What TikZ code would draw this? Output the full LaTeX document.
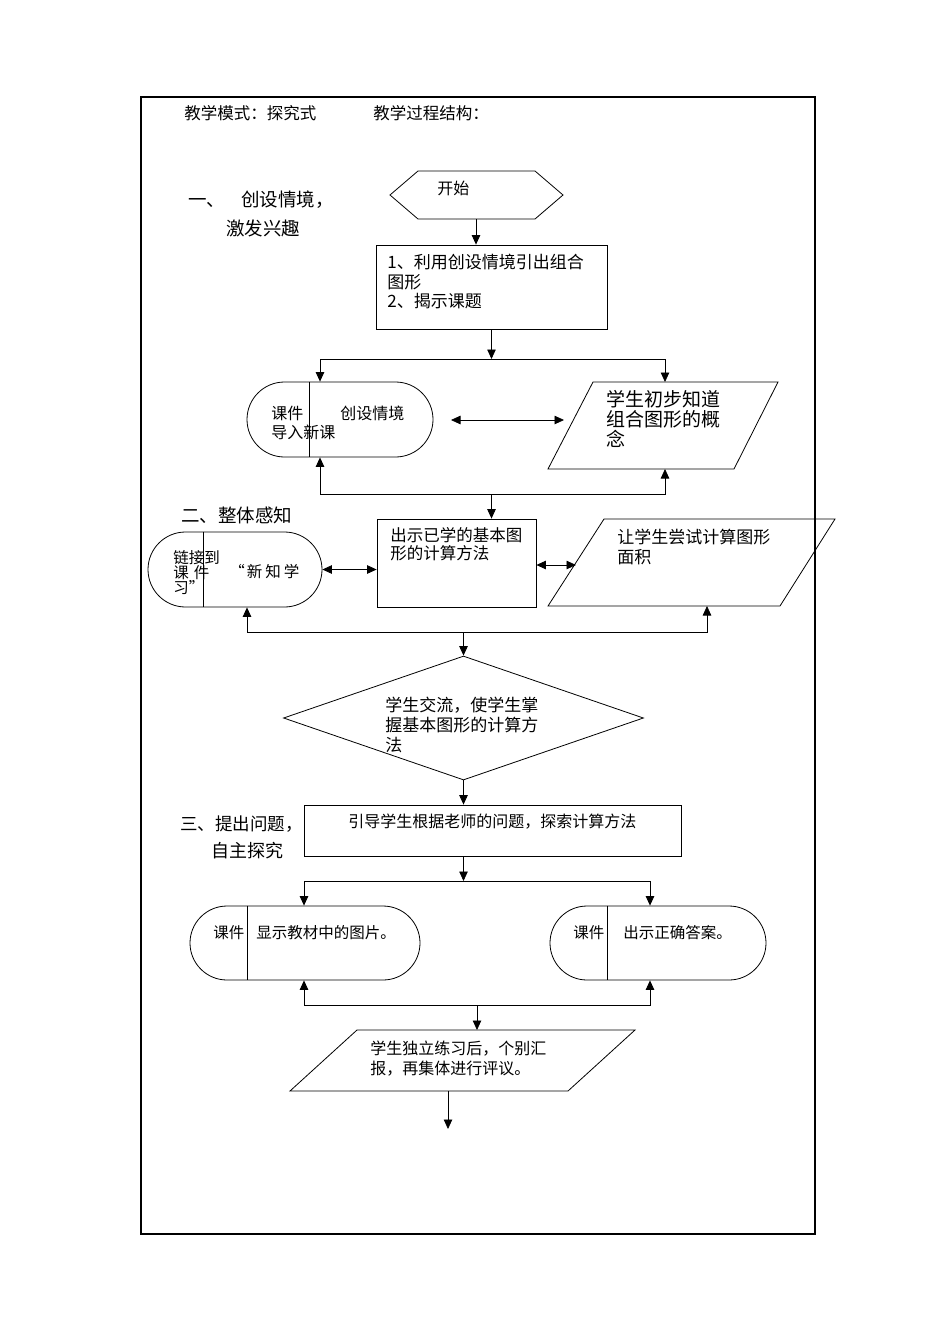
\documentclass[tikz,border=0pt]{standalone}
\usepackage{fontspec}
\newfontfamily\cjk{Noto Sans CJK SC}
\usetikzlibrary{arrows.meta,shapes.misc,shapes.geometric}
\begin{document}
\begin{tikzpicture}[x=1pt,y=-1pt,line width=0.8pt,
  arr/.style={-{Triangle[length=9.5pt,width=8.5pt]}},
  darr/.style={{Triangle[length=9.5pt,width=8.5pt]}-{Triangle[length=9.5pt,width=8.5pt]}},
  t/.style 2 args={font=\cjk\fontsize{#1}{#2}\selectfont,inner sep=0pt,align=left},
  boxn/.style={draw,rectangle,inner sep=0pt},
  pill/.style={draw,rounded rectangle,inner sep=0pt},
  dia/.style={draw,diamond,inner sep=0pt}]
\useasboundingbox (0,0) rectangle (950,1344);
\fill[white] (0,0) rectangle (950,1344);
% frame
\node[draw,line width=1.4pt,minimum width=674pt,minimum height=1137pt,inner sep=0pt] (frame) at (478,665.5) {};
% header
\node[t={16.5}{20},anchor=west] (h1) at (184,113) {教学模式：探究式};
\node[t={16.5}{20},anchor=west] (h2) at (373,113) {教学过程结构：};
% section labels
\node[t={18.5}{22},anchor=west] (s1a) at (188,200) {一、\hspace{16pt}创设情境，};
\node[t={18.5}{22},anchor=west] (s1b) at (226,228) {激发兴趣};
\node[t={18.5}{22},anchor=west] (s2) at (181,515) {二、整体感知};
\node[t={17.5}{22},anchor=west] (s3a) at (180,824) {三、提出问题，};
\node[t={18}{22},anchor=west] (s3b) at (211,851) {自主探究};
% hexagon start
\coordinate (hl) at (390,195); \coordinate (htl) at (418,171); \coordinate (htr) at (535,171);
\coordinate (hr) at (563,195); \coordinate (hbr) at (535,219); \coordinate (hbl) at (418,219);
\draw (hl) -- (htl) -- (htr) -- (hr) -- (hbr) -- (hbl) -- cycle;
\coordinate (hb) at (476,219);
\node[t={16}{20},anchor=west] (start) at (437,188) {开始};
% box 1
\node[boxn,minimum width=231pt,minimum height=84pt] (b1) at (491.5,287) {};
\node[t={17}{19.5},anchor=north west] (b1t) at (387,254) {1、利用创设情境引出组合\\图形\\2、揭示课题};
\draw[arr] (hb) -- (hb |- b1.north);
% split 1
\coordinate (j1) at (491.5,359);
\draw[arr] (b1.south) -- (j1);
% row 2
\node[pill,minimum width=186pt,minimum height=75pt] (r1) at (340,419.5) {};
\draw ([xshift=-31pt]r1.north) -- ([xshift=-31pt]r1.south);
\node[t={16}{19},anchor=north west] (r1a) at (271,406) {课件\\导入新课};
\node[t={16}{19},anchor=west] (r1b) at (340,413) {创设情境};
\coordinate (p1tl) at (593,382); \coordinate (p1tr) at (778,382);
\coordinate (p1br) at (734,469); \coordinate (p1bl) at (548,469);
\draw (p1tl) -- (p1tr) -- (p1br) -- (p1bl) -- cycle;
\node[t={19}{20},anchor=north west] (p1t) at (606,389.5) {学生初步知道\\组合图形的概\\念};
\coordinate (p1in) at (665,382); \coordinate (p1out) at (665,469);
\draw[arr] (j1) -| ([xshift=-20pt]r1.north);
\draw[arr] (j1) -| (p1in);
\coordinate (da1) at (451,420); \coordinate (da2) at (564,420);
\draw[darr] (da1) -- (da2);
% merge 2
\coordinate (j2) at (491.5,494);
\draw[arr] (j2) -| ([xshift=-20pt]r1.south);
\draw[arr] (j2) -| (p1out);
% row 3
\node[boxn,minimum width=159pt,minimum height=88pt] (b2) at (456.5,563) {};
\node[t={16.5}{18},anchor=north west] (b2t) at (390,527) {出示已学的基本图\\形的计算方法};
\draw[arr] (j2) -- (j2 |- b2.north);
\node[pill,minimum width=174pt,minimum height=75pt] (r2) at (235,569.5) {};
\draw ([xshift=-31.5pt]r2.north) -- ([xshift=-31.5pt]r2.south);
\node[t={15.5}{15},anchor=north west] (r2a) at (173,550) {链接到\\课\hspace{5pt}件\\习”};
\node[t={15.5}{19},anchor=west] (r2b) at (229,572) {“\hspace{2pt}新\hspace{3pt}知\hspace{3pt}学};
\draw[darr] (r2.east) -- (r2.east -| b2.west);
\coordinate (p2tl) at (604,519); \coordinate (p2tr) at (835,519);
\coordinate (p2br) at (780,606); \coordinate (p2bl) at (548,606);
\draw (p2tl) -- (p2tr) -- (p2br) -- (p2bl) -- cycle;
\node[t={17}{20},anchor=north west] (p2t) at (617,529) {让学生尝试计算图形\\面积};
\coordinate (da3) at (576,565); \coordinate (p2out) at (707,606);
\draw[darr] (b2.east |- da3) -- (da3);
% merge 3
\coordinate (j3) at (463.5,632);
\draw[arr] (j3) -| ([xshift=12pt]r2.south);
\draw[arr] (j3) -| (p2out);
% diamond
\node[dia,minimum width=360pt,minimum height=124pt] (d) at (463.5,718) {};
\node[t={17}{20},anchor=north west] (dt) at (385,697) {学生交流，使学生掌\\握基本图形的计算方\\法};
\draw[arr] (j3) -- (d.north);
% box 3
\node[boxn,minimum width=377pt,minimum height=51pt] (b3) at (492.5,830.5) {};
\node[t={16}{20},anchor=west] (b3t) at (348,822) {引导学生根据老师的问题，探索计算方法};
\draw[arr] (d.south) -- (d.south |- b3.north);
\coordinate (j4) at (463.5,881);
\draw[arr] (j4 |- b3.south) -- (j4);
% row 5
\node[pill,minimum width=230pt,minimum height=74pt] (r3) at (305,943) {};
\draw ([xshift=-58pt]r3.north) -- ([xshift=-58pt]r3.south);
\node[t={15.5}{19},anchor=west] (r3a) at (213,933) {课件};
\node[t={15.5}{19},anchor=west] (r3b) at (256,933) {显示教材中的图片。};
\node[pill,minimum width=216pt,minimum height=74pt] (r4) at (658,943) {};
\draw ([xshift=-51pt]r4.north) -- ([xshift=-51pt]r4.south);
\node[t={15.5}{19},anchor=west] (r4a) at (573,933) {课件};
\node[t={15.5}{19},anchor=west] (r4b) at (623,933) {出示正确答案。};
\draw[arr] (j4) -| ([xshift=-1pt]r3.north);
\draw[arr] (j4) -| ([xshift=-8pt]r4.north);
% merge 5
\coordinate (j5) at (477,1005);
\draw[arr] (j5) -| ([xshift=-1pt]r3.south);
\draw[arr] (j5) -| ([xshift=-8pt]r4.south);
% final parallelogram
\coordinate (p3tl) at (357,1030); \coordinate (p3tr) at (635,1030);
\coordinate (p3br) at (568,1091); \coordinate (p3bl) at (290,1091);
\draw (p3tl) -- (p3tr) -- (p3br) -- (p3bl) -- cycle;
\node[t={16}{20},anchor=north west] (p3t) at (370,1040.5) {学生独立练习后，个别汇\\报，再集体进行评议。};
\coordinate (p3in) at (477,1030);
\draw[arr] (j5) -- (p3in);
\coordinate (p3out) at (448,1091); \coordinate (e) at (448,1129);
\draw[arr] (p3out) -- (e);
\end{tikzpicture}
\end{document}
